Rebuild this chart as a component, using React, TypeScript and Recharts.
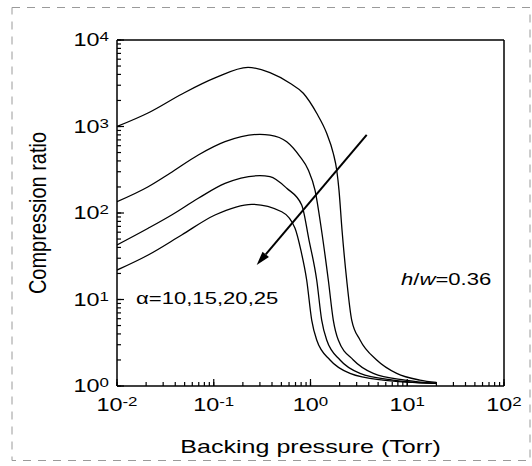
import React from "react";
import { LineChart, Line, XAxis, YAxis, ReferenceLine, Customized } from "recharts";

const FONT = "'Liberation Sans', Arial, Helvetica, sans-serif";
const SX = 1.3; // glyphs in the reference look stretched sideways

// compression ratio vs backing pressure (Torr), one list per alpha
const alpha10 = [
  { p: 0.01, r: 1000 }, { p: 0.0209, r: 1432 }, { p: 0.047, r: 2377 }, { p: 0.103, r: 3640 },
  { p: 0.226, r: 4830 }, { p: 0.381, r: 4190 }, { p: 0.614, r: 3158 }, { p: 0.843, r: 2420 },
  { p: 1.159, r: 1421 }, { p: 1.47, r: 834 }, { p: 1.72, r: 490 }, { p: 1.866, r: 314 },
  { p: 1.97, r: 184 }, { p: 2.117, r: 63.6 }, { p: 2.367, r: 16.8 }, { p: 2.666, r: 5.79 },
  { p: 3.25, r: 3.4 }, { p: 4.83, r: 2.0 }, { p: 7.78, r: 1.4 }, { p: 13.5, r: 1.17 }, { p: 20, r: 1.1 },
];
const alpha15 = [
  { p: 0.01, r: 135 }, { p: 0.021, r: 201 }, { p: 0.0353, r: 288 }, { p: 0.0692, r: 468 },
  { p: 0.1307, r: 667 }, { p: 0.3, r: 812 }, { p: 0.381, r: 797 }, { p: 0.568, r: 667 },
  { p: 0.779, r: 448 }, { p: 0.949, r: 314 }, { p: 1.113, r: 184 }, { p: 1.299, r: 63.6 },
  { p: 1.528, r: 16.8 }, { p: 1.72, r: 5.79 }, { p: 1.938, r: 3.4 }, { p: 2.77, r: 2.0 },
  { p: 4.46, r: 1.4 }, { p: 9.48, r: 1.17 }, { p: 20, r: 1.07 },
];
const alpha20 = [
  { p: 0.01, r: 42.7 }, { p: 0.021, r: 66.6 }, { p: 0.0367, r: 94.8 }, { p: 0.0692, r: 148 },
  { p: 0.1307, r: 220 }, { p: 0.3, r: 270 }, { p: 0.381, r: 263 }, { p: 0.568, r: 193 },
  { p: 0.811, r: 123.7 }, { p: 0.965, r: 48.7 }, { p: 1.159, r: 16.8 }, { p: 1.305, r: 5.79 },
  { p: 1.47, r: 3.4 }, { p: 2.02, r: 2.0 }, { p: 3.25, r: 1.4 }, { p: 7.12, r: 1.17 }, { p: 20, r: 1.07 },
];
const alpha25 = [
  { p: 0.01, r: 21.9 }, { p: 0.021, r: 32.7 }, { p: 0.0466, r: 55.7 }, { p: 0.103, r: 94.8 },
  { p: 0.247, r: 126 }, { p: 0.504, r: 103.5 }, { p: 0.692, r: 66.6 }, { p: 0.798, r: 36.4 },
  { p: 0.913, r: 16.8 }, { p: 1.029, r: 5.79 }, { p: 1.159, r: 3.4 }, { p: 1.591, r: 2.0 },
  { p: 2.56, r: 1.4 }, { p: 5.62, r: 1.17 }, { p: 20, r: 1.07 },
];
const curves = [alpha10, alpha15, alpha20, alpha25];

// arrow runs from upper right to lower left across the curves
const arrowFrom = { x: 3.81, y: 798 };
const arrowTo = { x: 0.278, y: 25 };

const xDecades = [0.01, 0.1, 1, 10, 100];
const yDecades = [1, 10, 100, 1000, 10000];
const minorSteps = [2, 3, 4, 5, 6, 7, 8, 9];

// decades plus the 2..9 steps between them, sorted
const logTicks = (dec: number[]) =>
  dec
    .concat(dec.slice(0, -1).flatMap((d) => minorSteps.map((k) => +(k * d).toPrecision(6))))
    .sort((a, b) => a - b);

const exponentOf = (v: number) => {
  const e = Math.log10(v);
  return Math.abs(e - Math.round(e)) < 1e-6 ? Math.round(e) : null;
};

const X_DOMAIN = [0.01, 100];
const Y_DOMAIN = [1, 10000];
const MINOR = 4;
const MAJOR = 7;

function XTick({ x, y, payload }: any) {
  const e = exponentOf(payload.value);
  if (e === null) return null;
  return (
    <g>
      <line x1={x} y1={y} x2={x} y2={y - MAJOR} stroke="#000" strokeWidth={1.2} />
      <text transform={`translate(${x},${y + 25}) scale(${SX},1)`} textAnchor="middle"
        fontFamily={FONT} fontSize={18} fill="#000">
        10<tspan dy={-5} fontSize={13}>{e}</tspan>
      </text>
    </g>
  );
}

function YTick({ x, y, payload }: any) {
  const e = exponentOf(payload.value);
  if (e === null) return null;
  return (
    <g>
      <line x1={x} y1={y} x2={x + MAJOR} y2={y} stroke="#000" strokeWidth={1.2} />
      <text transform={`translate(${x - 8},${y + 6}) scale(${SX},1)`} textAnchor="end"
        fontFamily={FONT} fontSize={18} fill="#000">
        10<tspan dy={-5} fontSize={13}>{e}</tspan>
      </text>
    </g>
  );
}

function Arrow({ x1, y1, x2, y2 }: any) {
  const a = Math.atan2(y2 - y1, x2 - x1);
  const len = 14;
  const half = 4.2;
  const bx = x2 - len * Math.cos(a);
  const by = y2 - len * Math.sin(a);
  const px = -Math.sin(a) * half;
  const py = Math.cos(a) * half;
  return (
    <g>
      <line x1={x1} y1={y1} x2={bx} y2={by} stroke="#000" strokeWidth={2} />
      <polygon points={`${x2},${y2} ${bx + px},${by + py} ${bx - px},${by - py}`} fill="#000" />
    </g>
  );
}

function Annotations() {
  return (
    <g fontFamily={FONT} fill="#000">
      <text transform="translate(310.5,453) scale(1.32,1)" textAnchor="middle" fontSize={19}>
        Backing pressure (Torr)
      </text>
      <text transform="translate(46,213) rotate(-90) scale(1,1.2)" textAnchor="middle" fontSize={20}>
        Compression ratio
      </text>
      <text transform={`translate(136,304) scale(${SX},1)`} fontSize={17}>
        α=10,15,20,25
      </text>
      <text transform={`translate(401,285) scale(${SX},1)`} fontSize={17}>
        <tspan fontStyle="italic">h</tspan>/<tspan fontStyle="italic">w</tspan>=0.36
      </text>
    </g>
  );
}

const tickStroke = { stroke: "#000", strokeWidth: 1.2 };
const frame = { stroke: "#000", strokeWidth: 1.5 };

export default function App() {
  return (
    <div style={{ position: "absolute", left: 0, top: 0, width: 532, height: 466, background: "#fff" }}>
      <LineChart width={532} height={466} margin={{ top: 40, right: 28, bottom: 0, left: 0 }}>
        <XAxis
          type="number" dataKey="p" scale="log" domain={X_DOMAIN} allowDataOverflow
          ticks={logTicks(xDecades)} interval={0} height={80}
          tickSize={-MINOR} tickMargin={MINOR} tickLine={tickStroke} tick={<XTick />}
          axisLine={frame}
        />
        <YAxis
          type="number" dataKey="r" scale="log" domain={Y_DOMAIN} allowDataOverflow
          ticks={logTicks(yDecades)} interval={0} width={117}
          tickSize={-MINOR} tickMargin={MINOR} tickLine={tickStroke} tick={<YTick />}
          axisLine={frame}
        />
        <ReferenceLine y={10000} {...frame} />
        <ReferenceLine x={100} {...frame} />
        {curves.map((c, i) => (
          <Line key={i} data={c} dataKey="r" type="monotone" stroke="#000" strokeWidth={1.3}
            dot={false} isAnimationActive={false} />
        ))}
        <ReferenceLine segment={[arrowFrom, arrowTo]} shape={Arrow} />
        <Customized component={Annotations} />
      </LineChart>
      <svg width={532} height={466} style={{ position: "absolute", left: 0, top: 0, pointerEvents: "none" }}>
        <rect x={12} y={7.5} width={518} height={453} fill="none" stroke="#9a9a9a" strokeDasharray="8 7" />
      </svg>
    </div>
  );
}
